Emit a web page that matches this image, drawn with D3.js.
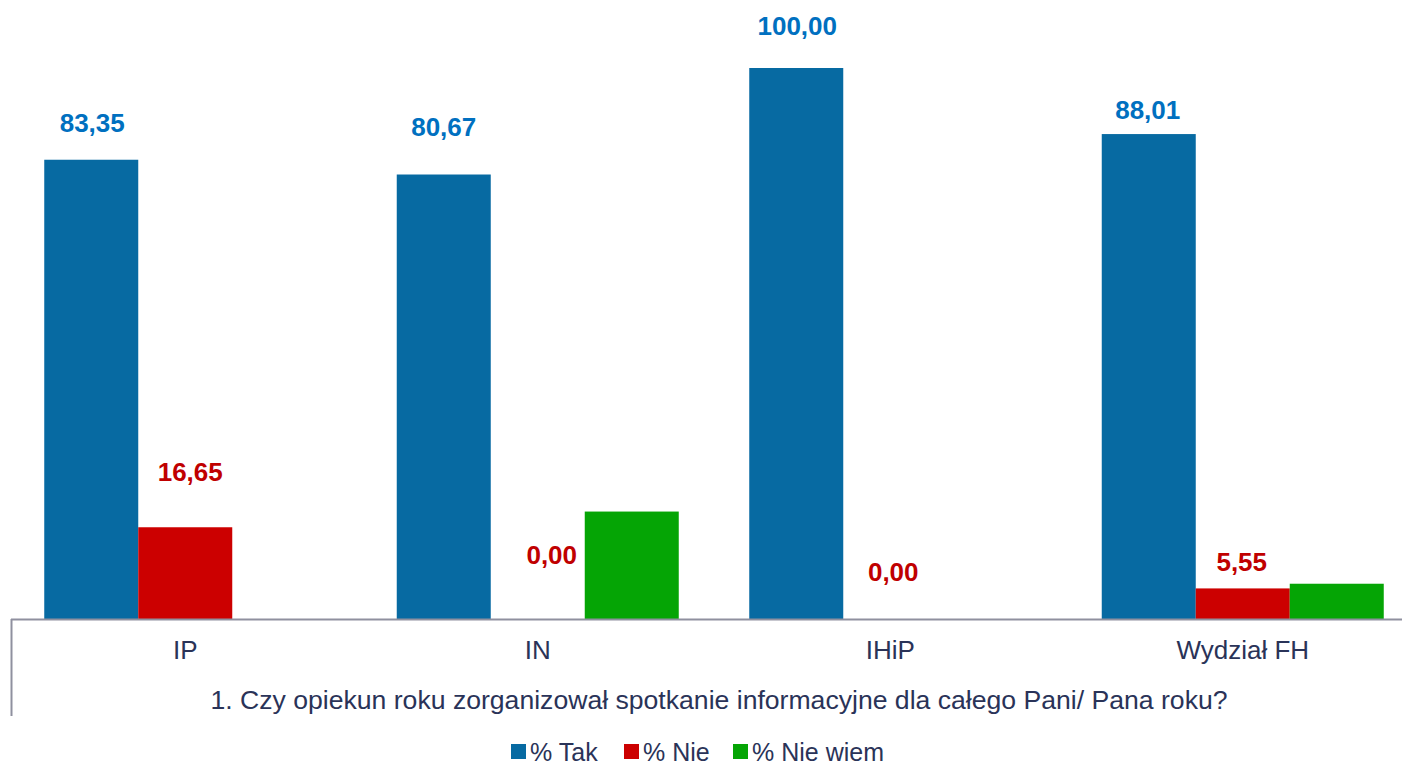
<!DOCTYPE html>
<html>
<head>
<meta charset="utf-8">
<script src="https://cdn.jsdelivr.net/npm/d3@7"></script>
<style>
  body { margin: 0; background: #fff; }
  text { font-family: "Liberation Sans", Arial, sans-serif; }
</style>
</head>
<body>
<div class="canvas"></div>
<script>
// data
const categories = ['IP', 'IN', 'IHiP', 'Wydział FH'];
const seriesNames = ['% Tak', '% Nie', '% Nie wiem'];
const tak = [83.35, 80.67, 100.00, 88.01];
const nie = [16.65, 0.00, 0.00, 5.55];
const nieWiem = [0.00, 19.5, 0.00, 6.4];
const title = '1. Czy opiekun roku zorganizował spotkanie informacyjne dla całego Pani/ Pana roku?';

const colors = ['#076aa2', '#cc0000', '#05a505'];
const labelColors = ['#0070c0', '#c00000'];
const textColor = '#2a3358';

// label nudges (px) for the value labels, [dx, baseline above bar top]
const takNudge = [[1, 28], [0, 39], [1, 33], [-1, 15]];
const nieNudge = [[5, 46], [14, 55], [3, 38], [-1, 17]];

const width = 1402, height = 766;
const margin = { top: 68, bottom: 147 };
const baseY = height - margin.bottom; // 619

const svg = d3.select('.canvas')
    .append('svg')
    .attr('width', width)
    .attr('height', height);

// scales
const x = d3.scaleBand()
    .domain(categories)
    .range([9, 1419])
    .paddingInner(0.2)
    .paddingOuter(0.1);

const xSub = d3.scaleBand()
    .domain(seriesNames)
    .range([0, x.bandwidth()]);

const y = d3.scaleLinear()
    .domain([0, 100])
    .range([baseY, margin.top]);

const rows = categories.map((c, i) => ({ cat: c, vals: [tak[i], nie[i], nieWiem[i]] }));

// bars
const groups = svg.selectAll('g.group')
    .data(rows)
    .enter()
    .append('g')
    .attr('class', 'group')
    .attr('transform', d => `translate(${x(d.cat)},0)`);

groups.selectAll('rect')
    .data(d => d.vals.map((v, j) => ({ v, j })))
    .enter()
    .append('rect')
    .attr('x', d => xSub(seriesNames[d.j]))
    .attr('y', d => y(d.v))
    .attr('width', xSub.bandwidth())
    .attr('height', d => baseY - y(d.v))
    .attr('fill', d => colors[d.j]);

// value labels (only Tak and Nie are labelled)
const fmt = v => v.toFixed(2).replace('.', ',');
[[tak, takNudge], [nie, nieNudge]].forEach(([vals, nudge], j) => {
    svg.selectAll(null)
        .data(vals)
        .enter()
        .append('text')
        .attr('x', (d, i) => x(categories[i]) + xSub(seriesNames[j]) + xSub.bandwidth() / 2 + nudge[i][0])
        .attr('y', (d, i) => y(d) - nudge[i][1])
        .attr('text-anchor', 'middle')
        .attr('font-size', 26)
        .attr('font-weight', 'bold')
        .attr('fill', labelColors[j])
        .text(fmt);
});

// x axis
const xAxis = d3.axisBottom(x).tickSize(0).tickPadding(22);
const xAxisGroup = svg.append('g')
    .attr('transform', `translate(0,${baseY})`)
    .call(xAxis);
xAxisGroup.select('.domain').remove();
xAxisGroup.selectAll('text')
    .attr('font-size', 26)
    .attr('font-family', '"Liberation Sans", Arial, sans-serif')
    .attr('fill', textColor);

svg.append('line')
    .attr('x1', 11).attr('x2', width)
    .attr('y1', baseY + 0.5).attr('y2', baseY + 0.5)
    .attr('stroke', '#8f909f').attr('stroke-width', 2);
svg.append('line')
    .attr('x1', 11.5).attr('x2', 11.5)
    .attr('y1', baseY).attr('y2', 716)
    .attr('stroke', '#8f909f').attr('stroke-width', 2);

// title under axis
svg.append('text')
    .attr('x', 719)
    .attr('y', 709)
    .attr('text-anchor', 'middle')
    .attr('font-size', 26.6)
    .attr('fill', textColor)
    .text(title);

// legend
const legendX = [511, 624, 733];
const legend = svg.selectAll('g.legend')
    .data(seriesNames)
    .enter()
    .append('g')
    .attr('class', 'legend')
    .attr('transform', (d, i) => `translate(${legendX[i]},744)`);
legend.append('rect')
    .attr('width', 15).attr('height', 15)
    .attr('fill', (d, i) => colors[i]);
legend.append('text')
    .attr('x', 19)
    .attr('y', 17)
    .attr('font-size', 25)
    .attr('fill', textColor)
    .text(d => d);
</script>
</body>
</html>
